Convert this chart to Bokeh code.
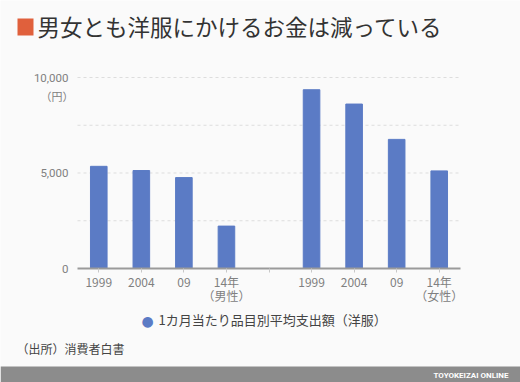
from bokeh.plotting import figure
from bokeh.models import FixedTicker, Label, Range1d, PolyAnnotation
from bokeh.embed import file_html
from bokeh.resources import INLINE

# ---- data ----
labels_male = ["1999", "2004", "09", "14年\n（男性）"]
labels_female = ["1999", "2004", "09", "14年\n（女性）"]
values_male = [5350, 5130, 4760, 2220]
values_female = [9360, 8610, 6760, 5110]
y_ticks = [0, 5000, 10000]
y_tick_labels = ["0", "5,000", "10,000"]
grid_ticks = [2500, 5000, 7500, 10000]
y_max = 10000
title_text = "男女とも洋服にかけるお金は減っている"
legend_text = "1カ月当たり品目別平均支出額（洋服）"
source_text = "（出所）消費者白書"
unit_text = "（円）"
footer_text = "TOYOKEIZAI ONLINE"

BAR = "#5b7bc5"
BG = "#fafafa"
JP = "Noto Sans CJK JP"

n_m = len(values_male)
xs_male = list(range(n_m))
xs_female = [n_m + 1 + i for i in range(len(values_female))]
n_slots = n_m + 1 + len(values_female)

# ---- layout (canvas pixels) ----
W, H = 520, 382
PL, PR, PT, PB = 77, 460, 77, 268   # plot area: left, right, top(y_max), bottom(0)
ppx = (PR - PL) / n_slots
ppy = (PB - PT) / y_max
x0, x1 = -0.5, n_slots - 0.5
xr = Range1d(x0 - PL / ppx, x1 + (W - PR) / ppx)
yr = Range1d(-(H - PB) / ppy, y_max + PT / ppy)

p = figure(width=W, height=H, output_backend="svg", toolbar_location=None,
           x_range=xr, y_range=yr,
           min_border=0, min_border_left=0, min_border_right=0,
           min_border_top=0, min_border_bottom=0,
           background_fill_color=BG, border_fill_color=BG, outline_line_color=None)
p.grid.visible = False

# grid lines (dashed) inside plot area
p.segment(x0=[x0] * len(grid_ticks), x1=[x1] * len(grid_ticks), y0=grid_ticks, y1=grid_ticks,
          line_color="#dddddd", line_width=1, line_dash="3 3")

p.vbar(x=xs_male, top=values_male, width=0.39, color=BAR)
p.vbar(x=xs_female, top=values_female, width=0.39, color=BAR)

# x axis
overrides = {}
for x, l in zip(xs_male, labels_male):
    overrides[x] = l
for x, l in zip(xs_female, labels_female):
    overrides[x] = l
overrides[n_m] = ""
xa = p.xaxis[0]
xa.fixed_location = 0
xa.bounds = (x0, x1)
xa.ticker = FixedTicker(ticks=list(range(n_slots)))
xa.major_label_overrides = overrides
xa.axis_line_color = "#9a9a9a"
xa.axis_line_width = 2
xa.major_tick_line_color = "#c8c8c8"
xa.major_tick_out = 4
xa.major_tick_in = 0
xa.minor_tick_line_color = None
xa.major_label_standoff = 0
xa.major_label_text_font = JP
xa.major_label_text_font_size = "12px"
xa.major_label_text_line_height = 0.85
xa.major_label_text_color = "#808080"

# y axis
ya = p.yaxis[0]
ya.fixed_location = x0
ya.bounds = (0, y_max)
ya.ticker = FixedTicker(ticks=y_ticks)
ya.major_label_overrides = dict(zip(y_ticks, y_tick_labels))
ya.axis_line_color = None
ya.major_tick_line_color = None
ya.minor_tick_line_color = None
ya.major_tick_out = 0
ya.major_tick_in = 0
ya.major_label_standoff = 9
ya.major_label_text_font = "Roboto"
ya.major_label_text_font_size = "11.5px"
ya.major_label_text_color = "#808080"

def lab(cx, cy, text, **kw):
    """Label at canvas pixel (cx from left, cy from top)."""
    p.add_layout(Label(x=cx, y=H - cy, x_units="screen", y_units="screen",
                       text=text, text_baseline="middle", **kw))

def box(l, t, r, b, color):
    p.add_layout(PolyAnnotation(xs=[l, r, r, l], ys=[H - t, H - t, H - b, H - b],
                                xs_units="screen", ys_units="screen",
                                fill_color=color, fill_alpha=1.0, line_color=None))

# title square + title
box(17, 18, 33, 35, "#e0603c")
lab(37, 25, title_text, text_font=JP, text_font_size="22.5px", text_color="#333333",
    text_align="left")
# unit
lab(73, 95, unit_text, text_font=JP, text_font_size="11px", text_color="#808080",
    text_align="right")
# legend
lab(147, 320, "●", text_font="DejaVu Sans", text_font_size="14px", text_color=BAR,
    text_align="center")
lab(158, 319, legend_text, text_font=JP, text_font_size="13px", text_color="#444444",
    text_align="left")
# source
lab(16, 348, source_text, text_font=JP, text_font_size="12px", text_color="#444444",
    text_align="left")
# footer
box(0, 366, W, H, "#8c8c8c")
lab(508, 374.5, footer_text, text_font="Roboto", text_font_size="8px",
    text_font_style="bold", text_color="#ffffff", text_align="right")

open("out.html", "w").write(file_html(p, INLINE))
